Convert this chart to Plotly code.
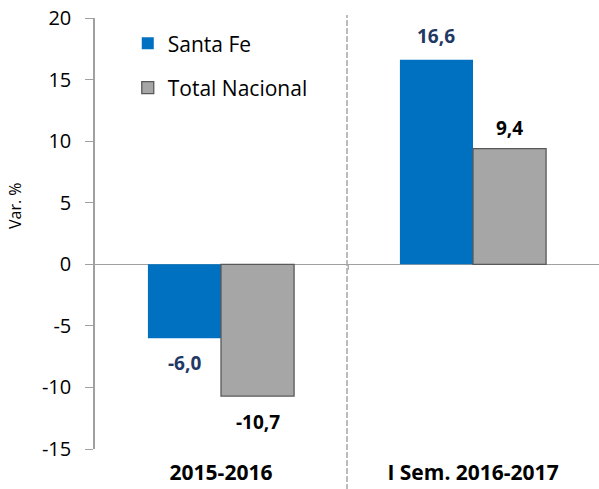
import plotly.graph_objects as go

categories = ["2015-2016", "I Sem. 2016-2017"]
santa_fe = [-6.0, 16.6]
total_nacional = [-10.7, 9.4]
series_names = ["Santa Fe", "Total Nacional"]
y_ticks = [-15, -10, -5, 0, 5, 10, 15, 20]

FONT = "Open Sans, Lato, Liberation Sans, sans-serif"
BLUE = "#0070C0"
GREY = "#A6A6A6"
xpos = list(range(len(categories)))
W = 0.29

fig = go.Figure()
fig.add_trace(go.Bar(x=xpos, y=santa_fe, name=series_names[0], width=W, offset=-W,
                     marker=dict(color=BLUE, line=dict(width=0)), legendgroup="a"))
fig.add_trace(go.Bar(x=xpos, y=total_nacional, name=series_names[1], width=W, offset=0,
                     marker=dict(color=GREY, line=dict(color="#595959", width=1.3)), legendgroup="b"))

def fmt(v):
    return f"{v:.1f}".replace(".", ",")

ann = []
for i, v in enumerate(santa_fe):
    ann.append(dict(x=xpos[i] - W / 2, y=v, text=f"<b>{fmt(v)}</b>", showarrow=False,
                    yshift=24 if v > 0 else -25, font=dict(size=19, color="#1F3864", family=FONT)))
for i, v in enumerate(total_nacional):
    ann.append(dict(x=xpos[i] + W / 2, y=v, text=f"<b>{fmt(v)}</b>", showarrow=False,
                    yshift=21 if v > 0 else -26, font=dict(size=19, color="#000000", family=FONT)))
ann.append(dict(xref="paper", yref="y", x=-0.159, y=4.8, xanchor="center", yanchor="middle",
                text="Var. %", textangle=-90, showarrow=False,
                font=dict(size=16, color="#000000", family=FONT)))

fig.update_layout(
    width=599, height=489,
    margin=dict(l=95, r=0, t=18, b=40),
    paper_bgcolor="white", plot_bgcolor="white",
    barmode="overlay",
    font=dict(family=FONT, size=19, color="#000000"),
    annotations=ann,
    legend=dict(x=0.065, y=0.988, xanchor="left", yanchor="top", bgcolor="rgba(0,0,0,0)",
                traceorder="grouped", tracegroupgap=14, font=dict(size=21, family=FONT)),
    xaxis=dict(range=[-0.5, 1.5], tickvals=xpos,
               ticktext=[f"<b>{c}</b>" for c in categories],
               showline=False, showgrid=False, zeroline=False, ticks="",
               ticklabelstandoff=9,
               tickfont=dict(size=21, family=FONT), automargin=False, fixedrange=True),
    yaxis=dict(range=[-15, 20], tickvals=y_ticks, ticktext=[str(t) for t in y_ticks],
               showgrid=False, automargin=False, ticklabelstandoff=10,
               showline=True, linecolor="#A0A0A0", linewidth=1.5,
               ticks="outside", ticklen=8, tickcolor="#A0A0A0", tickwidth=1.3,
               zeroline=True, zerolinecolor="#A0A0A0", zerolinewidth=1.3,
               tickfont=dict(size=20, family=FONT)),
    shapes=[
        dict(type="line", xref="x", yref="paper", x0=0.5, x1=0.5, y0=-0.095, y1=1.007,
             line=dict(color="#A6A6A6", width=1.5, dash="6px,2px")),
        dict(type="line", xref="x", yref="y", x0=0.505, x1=0.505, y0=0, y1=-0.45,
             line=dict(color="#A0A0A0", width=1.2)),
    ],
)

fig.write_html("out.html", config={"displayModeBar": False},
               post_script="document.body.style.margin='0px';")
